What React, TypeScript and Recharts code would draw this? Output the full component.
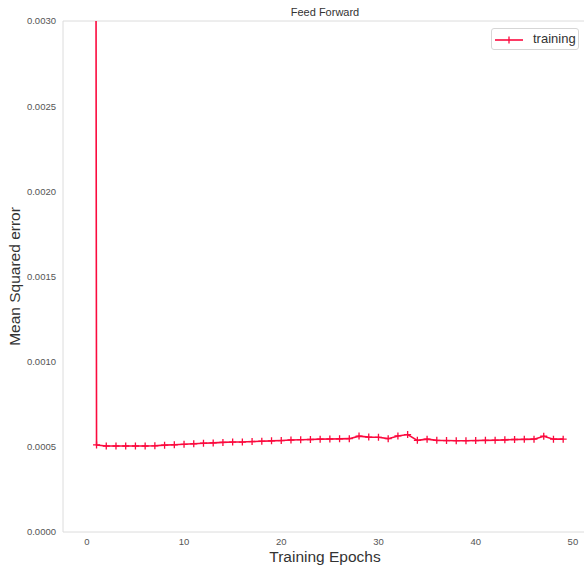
import React from "react";
import { LineChart, Line, XAxis, YAxis, ReferenceLine, Legend, Label } from "recharts";

const epochs: number[] = Array.from({ length: 50 }, (_, i) => i);
const trainingMSE: number[] = [
  0.05, 0.000511, 0.000505, 0.000505, 0.000505, 0.000505, 0.000505, 0.000506, 0.00051, 0.000512,
  0.000515, 0.000518, 0.000521, 0.000523, 0.000526, 0.000528, 0.000528, 0.000531, 0.000533, 0.000535,
  0.000537, 0.00054, 0.000542, 0.000543, 0.000545, 0.000546, 0.000547, 0.000548, 0.000563, 0.000557,
  0.000556, 0.000548, 0.000564, 0.000572, 0.000538, 0.000545, 0.000538, 0.000537, 0.000536, 0.000536,
  0.000537, 0.000538, 0.000539, 0.000541, 0.000543, 0.000544, 0.000545, 0.000562, 0.000545, 0.000545,
];
const xTicks: number[] = [0, 10, 20, 30, 40, 50];
const yTicks: number[] = [0, 0.0005, 0.001, 0.0015, 0.002, 0.0025, 0.003];

const data = epochs.map((e, i) => ({ epoch: e, training: trainingMSE[i] }));

const RED = "#fb0a3e";
const FONT = "'Liberation Sans', Arial, sans-serif";

const PlusDot = (props: any) => {
  const { cx, cy } = props;
  if (cx == null || cy == null) return null;
  return (
    <path
      d={`M${cx - 3.5},${cy}H${cx + 3.5}M${cx},${cy - 3.5}V${cy + 3.5}`}
      stroke={RED}
      strokeWidth={1.3}
      fill="none"
    />
  );
};

const YLabel = (props: any) => {
  const vb = props.viewBox || {};
  const cy = vb.y + vb.height / 2;
  return (
    <text
      x={14}
      y={cy}
      transform={`rotate(-90, 14, ${cy})`}
      textAnchor="middle"
      dominantBaseline="central"
      fontSize={15.5}
      fill="#333"
      fontFamily={FONT}
    >
      Mean Squared error
    </text>
  );
};

const XLabel = (props: any) => {
  const vb = props.viewBox || {};
  const cx = vb.x + vb.width / 2;
  return (
    <text x={cx} y={556} textAnchor="middle" dominantBaseline="central" fontSize={15.5} fill="#333" fontFamily={FONT}>
      Training Epochs
    </text>
  );
};

const LegendBox = () => (
  <div
    style={{
      position: "absolute",
      left: 491,
      top: 28,
      width: 88,
      height: 22,
      border: "1px solid #d6d6d6",
      borderRadius: 3,
      background: "#fff",
      boxSizing: "border-box",
      fontFamily: FONT,
    }}
  >
    <svg width={30} height={20} style={{ position: "absolute", left: 2, top: 1 }}>
      <line x1={1} y1={10} x2={29} y2={10} stroke={RED} strokeWidth={1.6} />
      <path d="M15,6.5V13.5" stroke={RED} strokeWidth={1.3} />
    </svg>
    <span style={{ position: "absolute", left: 41, top: 2, fontSize: 13, color: "#333", lineHeight: "16px" }}>
      training
    </span>
  </div>
);

export default function App() {
  return (
    <div
      style={{
        position: "absolute",
        left: 0,
        top: 0,
        width: 584,
        height: 567,
        overflow: "hidden",
        background: "#fff",
        fontFamily: FONT,
      }}
    >
      <div
        style={{
          position: "absolute",
          left: 0,
          width: 650,
          top: 5,
          textAlign: "center",
          fontSize: 11,
          color: "#333",
          lineHeight: "14px",
        }}
      >
        Feed Forward
      </div>
      <LineChart width={600} height={567} data={data} margin={{ top: 21, right: 13, left: 0, bottom: 0 }}>
        <XAxis
          dataKey="epoch"
          type="number"
          domain={[-2.45, 51.45]}
          allowDataOverflow
          ticks={xTicks}
          height={35}
          tickSize={0}
          tickMargin={6}
          stroke="#dcdcdc"
          tick={{ fontSize: 9.5, fill: "#555", fontFamily: FONT }}
        >
          <Label content={<XLabel />} />
        </XAxis>
        <YAxis
          type="number"
          domain={[0, 0.003]}
          allowDataOverflow
          ticks={yTicks}
          width={63}
          tickSize={0}
          tickMargin={7}
          stroke="#dcdcdc"
          tickFormatter={(v: number) => v.toFixed(4)}
          tick={{ fontSize: 9.5, fill: "#555", fontFamily: FONT }}
        >
          <Label content={<YLabel />} />
        </YAxis>
        <ReferenceLine y={0.003} stroke="#dcdcdc" strokeWidth={1} ifOverflow="extendDomain" />
        <Line
          dataKey="training"
          stroke={RED}
          strokeWidth={1.6}
          dot={<PlusDot />}
          activeDot={false}
          isAnimationActive={false}
        />
      </LineChart>
      <LegendBox />
    </div>
  );
}
